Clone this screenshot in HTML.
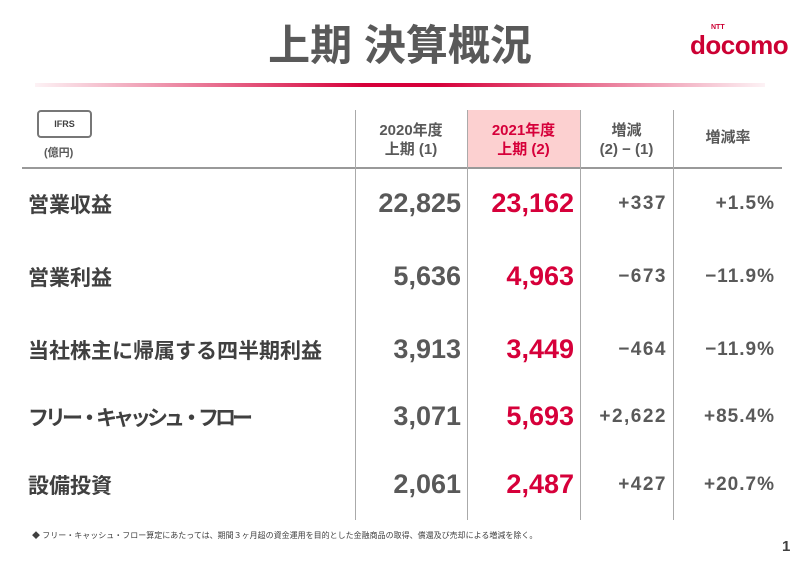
<!DOCTYPE html>
<html><head><meta charset="utf-8"><style>
body{margin:0;width:800px;height:566px;background:#fff;position:relative;overflow:hidden;font-family:"Liberation Sans","Noto Sans CJK JP",sans-serif;}
.a{position:absolute;white-space:nowrap;line-height:1}
.v{position:absolute;top:110px;height:410px;width:1px;background:#aaa}
.lab{left:28px;font-size:21px;font-weight:bold;color:#404040}
.n1{right:339px;font-size:27px;font-weight:bold;color:#595959}
.n2{right:226px;font-size:27px;font-weight:bold;color:#d6003a}
.n3{right:133px;font-size:19px;font-weight:bold;color:#595959;letter-spacing:1.5px}
.n4{right:25px;font-size:19px;font-weight:bold;color:#595959;letter-spacing:1px}
.h{font-size:15px;font-weight:bold;color:#595959;text-align:center;line-height:19px}
</style></head><body>
<div class="a" style="left:0;width:800px;top:25px;text-align:center;font-size:42px;font-weight:bold;color:#595959">上期 決算概況</div>
<div class="a" style="left:690px;top:32px;font-size:26px;font-weight:bold;color:#cc0033;letter-spacing:-0.5px">docomo</div>
<div class="a" style="left:711px;top:24px;font-size:7px;font-weight:bold;color:#cc0033">NTT</div>
<div class="a" style="left:35px;top:83px;width:730px;height:4px;background:linear-gradient(90deg,rgba(214,0,58,0.05),#d6003a 45%,#d6003a 55%,rgba(214,0,58,0.05))"></div>
<div class="a" style="left:467px;top:110px;width:113px;height:58px;background:#fcd0d0"></div>
<div class="a" style="left:22px;top:167px;width:760px;height:2px;background:#999"></div>
<div class="v" style="left:355px"></div><div class="v" style="left:467px"></div><div class="v" style="left:580px"></div><div class="v" style="left:673px"></div>
<div class="a" style="left:37px;top:110px;width:51px;height:24px;border:2px double #777;border-radius:4px;font-size:9px;font-weight:bold;color:#404040;text-align:center;line-height:24px">IFRS</div>
<div class="a" style="left:44px;top:148px;font-size:11px;color:#595959;font-weight:bold">(億円)</div>
<div class="a h" style="left:355px;width:112px;top:121px">2020年度<br>上期 (1)</div>
<div class="a h" style="left:467px;width:113px;top:121px;color:#d6003a">2021年度<br>上期 (2)</div>
<div class="a h" style="left:580px;width:93px;top:121px">増減<br>(2) − (1)</div>
<div class="a h" style="left:673px;width:110px;top:128px">増減率</div>

<div class="a lab" style="top:195px">営業収益</div>
<div class="a n1" style="top:190px">22,825</div><div class="a n2" style="top:190px">23,162</div>
<div class="a n3" style="top:194px">+337</div><div class="a n4" style="top:194px">+1.5%</div>

<div class="a lab" style="top:268px">営業利益</div>
<div class="a n1" style="top:263px">5,636</div><div class="a n2" style="top:263px">4,963</div>
<div class="a n3" style="top:267px">−673</div><div class="a n4" style="top:267px">−11.9%</div>

<div class="a lab" style="top:341px">当社株主に帰属する四半期利益</div>
<div class="a n1" style="top:336px">3,913</div><div class="a n2" style="top:336px">3,449</div>
<div class="a n3" style="top:340px">−464</div><div class="a n4" style="top:340px">−11.9%</div>

<div class="a lab" style="top:408px;letter-spacing:-4px">フリー・キャッシュ・フロー</div>
<div class="a n1" style="top:403px">3,071</div><div class="a n2" style="top:403px">5,693</div>
<div class="a n3" style="top:407px">+2,622</div><div class="a n4" style="top:407px">+85.4%</div>

<div class="a lab" style="top:476px">設備投資</div>
<div class="a n1" style="top:471px">2,061</div><div class="a n2" style="top:471px">2,487</div>
<div class="a n3" style="top:475px">+427</div><div class="a n4" style="top:475px">+20.7%</div>

<div class="a" style="left:32px;top:532px;font-size:8px;color:#404040">◆ フリー・キャッシュ・フロー算定にあたっては、期間３ヶ月超の資金運用を目的とした金融商品の取得、償還及び売却による増減を除く。</div>
<div class="a" style="left:782px;top:539px;font-size:15px;font-weight:bold;color:#404040">1</div>
</body></html>
